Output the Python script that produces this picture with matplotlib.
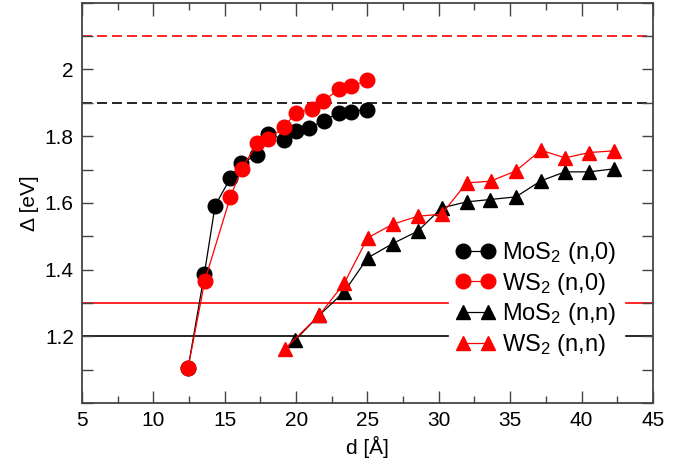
import matplotlib
matplotlib.use("Agg")
import matplotlib.pyplot as plt
import numpy as np

plt.rcParams["font.family"] = ["Liberation Sans", "DejaVu Sans"]
plt.rcParams["mathtext.fontset"] = "custom"
plt.rcParams["mathtext.rm"] = "Liberation Sans"
plt.rcParams["mathtext.it"] = "Liberation Sans:italic"

# (n,0) tubes
d_mos2_n0 = [12.43, 13.57, 14.32, 15.39, 16.14, 17.28, 18.05, 19.17, 19.97, 20.92, 21.93, 23.02, 23.87, 24.99]
gap_mos2_n0 = [1.106, 1.388, 1.592, 1.674, 1.719, 1.744, 1.806, 1.790, 1.817, 1.826, 1.846, 1.871, 1.874, 1.880]

d_ws2_n0 = [12.43, 13.60, 15.39, 16.19, 17.28, 18.05, 19.17, 19.97, 21.09, 21.91, 23.02, 23.87, 24.99]
gap_ws2_n0 = [1.106, 1.367, 1.618, 1.703, 1.779, 1.792, 1.828, 1.871, 1.881, 1.906, 1.941, 1.950, 1.968]

# (n,n) tubes
d_mos2_nn = [19.92, 21.62, 23.38, 25.01, 26.77, 28.52, 30.20, 31.95, 33.58, 35.40, 37.15, 38.84, 40.54, 42.27]
gap_mos2_nn = [1.188, 1.263, 1.334, 1.435, 1.478, 1.515, 1.585, 1.603, 1.610, 1.618, 1.666, 1.693, 1.693, 1.702]

d_ws2_nn = [19.22, 21.62, 23.38, 25.01, 26.77, 28.52, 30.20, 31.95, 33.63, 35.40, 37.15, 38.84, 40.54, 42.27]
gap_ws2_nn = [1.163, 1.263, 1.360, 1.495, 1.536, 1.560, 1.566, 1.660, 1.665, 1.696, 1.758, 1.735, 1.751, 1.756]

# reference levels
mos2_bulk, ws2_bulk = 1.2, 1.3
mos2_mono, ws2_mono = 1.9, 2.1

fig = plt.figure(figsize=(6.96, 4.68), dpi=100)
ax = fig.add_axes([0.118, 0.139, 0.820, 0.855])

ax.axhline(ws2_mono, color="red", lw=1.2, ls=(0, (6, 3)), zorder=1)
ax.axhline(mos2_mono, color="black", lw=1.2, ls=(0, (6, 3)), zorder=1)
ax.axhline(ws2_bulk, color="red", lw=1.2, zorder=1)
ax.axhline(mos2_bulk, color="black", lw=1.2, zorder=1)

ax.plot(d_mos2_n0, gap_mos2_n0, "o-", color="black", lw=0.9, ms=10.5, label="MoS$_2$ (n,0)", zorder=3)
ax.plot(d_ws2_n0, gap_ws2_n0, "o-", color="red", lw=0.9, ms=10.5, label="WS$_2$ (n,0)", zorder=3)
ax.plot(d_mos2_nn, gap_mos2_nn, "^-", color="black", lw=0.9, ms=10, label="MoS$_2$ (n,n)", zorder=3)
ax.plot(d_ws2_nn, gap_ws2_nn, "^-", color="red", lw=0.9, ms=10, label="WS$_2$ (n,n)", zorder=3)

ax.set_xlim(5, 45)
ax.set_ylim(1.0, 2.2)
ax.set_xticks(np.arange(5, 46, 5))
ax.set_xticks(np.arange(5, 46, 2.5), minor=True)
ax.set_yticks([1.2, 1.4, 1.6, 1.8, 2.0])
ax.set_yticklabels(["1.2", "1.4", "1.6", "1.8", "2"])
ax.set_yticks(np.arange(1.0, 2.21, 0.1), minor=True)

ax.tick_params(which="both", direction="in", top=True, right=True, labelsize=15, width=1.0, colors="#444444", labelcolor="black")
ax.tick_params(axis="x", which="major", length=9)
ax.tick_params(axis="x", which="minor", length=5)
ax.tick_params(axis="y", which="both", length=8)
ax.tick_params(axis="both", which="major", pad=6)

for s in ax.spines.values():
    s.set_linewidth(1.3)
    s.set_color("#444444")

ax.set_xlabel("d [Å]", fontsize=15, labelpad=4)
ax.set_ylabel("Δ [eV]", fontsize=15, labelpad=4)

leg = ax.legend(loc="center left", bbox_to_anchor=(0.622, 0.26), fontsize=17, numpoints=2,
                handlelength=1.65, handletextpad=0.3, labelspacing=0.2, borderpad=0.3,
                frameon=True, fancybox=False, framealpha=1.0, edgecolor="white")
leg.set_zorder(5)

fig.savefig("out.png", dpi=100)
plt.close(fig)
